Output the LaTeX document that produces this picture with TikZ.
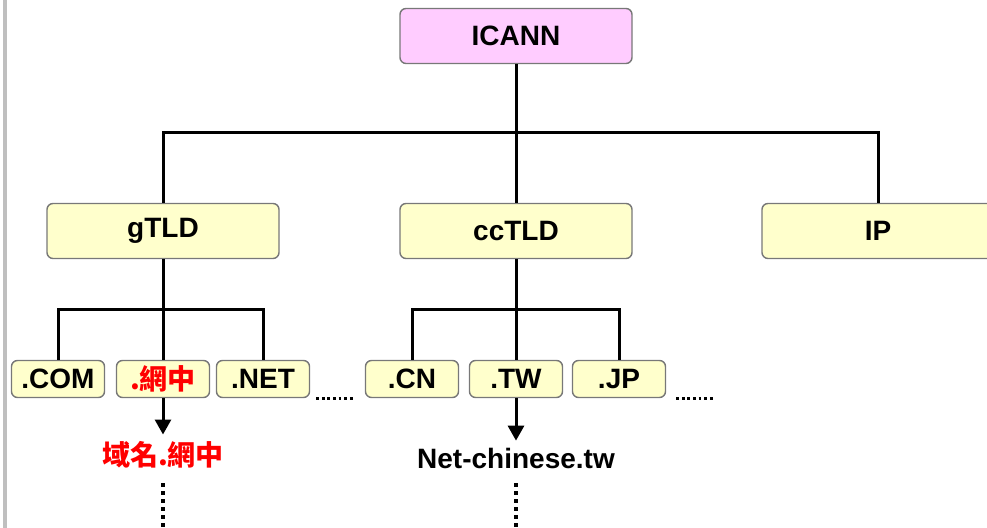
\documentclass[tikz,border=0pt]{standalone}
\usepackage{fontspec}
\setmainfont{Liberation Sans}
\newfontfamily\cjk{Noto Sans CJK TC}
\usetikzlibrary{arrows.meta}
\definecolor{boxyellow}{RGB}{255,255,204}
\definecolor{boxpink}{RGB}{255,204,255}
\definecolor{boxedge}{RGB}{120,120,120}

\begin{document}
\begin{tikzpicture}[x=0.5pt,y=-0.5pt,
        box/.style={draw=boxedge,line width=0.7pt,rounded corners=3pt,fill=boxyellow,
            inner sep=0pt,font=\fontsize{14}{16}\selectfont\bfseries},
        bigbox/.style={box,minimum width=116pt,minimum height=27.5pt},
        tldbox/.style={box,minimum width=46.5pt,minimum height=18.5pt},
        leaf/.style={font=\fontsize{14}{16}\selectfont\bfseries},
        branch/.style={line width=1.5pt},
        down/.style={line width=1.5pt,-{Triangle[length=7.5pt,width=8pt]}},
        vdots/.style={line width=1.6pt,dash pattern=on 1.6pt off 2.4pt},
        hdots/.style={line width=1.4pt,dash pattern=on 1.4pt off 1.4pt}]
    \useasboundingbox (0,0) rectangle (987,528);
    \draw[line width=1.6pt,black!25] (5,0) -- (5,528);

    \node[bigbox,fill=boxpink] (icann) at (516,36) {ICANN};
    \node[bigbox] (gtld) at (163,231) {gTLD};
    \node[bigbox] (cctld) at (516,231) {ccTLD};
    \node[bigbox] (ip) at (878,231) {IP};

    \node[tldbox] (com) at (58,379) {.COM};
    \node[tldbox,text=red] (wang) at (163,379) {\cjk .網中};
    \node[tldbox] (net) at (263,379) {.NET};
    \node[tldbox] (cn) at (412,379) {.CN};
    \node[tldbox] (tw) at (516,379) {.TW};
    \node[tldbox] (jp) at (619,379) {.JP};

    \node[leaf,text=red] (wangname) at (163,455) {\cjk 域名.網中};
    \node[leaf] (twname) at (516,458) {Net-chinese.tw};

    \coordinate (top) at (516,133);
    \coordinate (gbar) at (163,310);
    \coordinate (cbar) at (516,310);
    \coordinate (wangend) at (163,528);
    \coordinate (twend) at (516,528);

    \draw[branch] (icann) -- (cctld);
    \draw[branch] (gtld.north) |- (top) -| (ip.north);
    \draw[branch] (gtld) -- (wang);
    \draw[branch] (com.north) |- (gbar) -| (net.north);
    \draw[branch] (cctld) -- (tw);
    \draw[branch] (cn.north) |- (cbar) -| (jp.north);

    \draw[down] (wang) -- (wangname);
    \draw[down] (tw) -- (twname);
    \draw[vdots] ([yshift=-4pt]wangname.south) -- (wangend);
    \draw[vdots] ([yshift=-4pt]twname.south) -- (twend);
    \draw[hdots] ([xshift=3pt]net.south east) -- ++(19pt,0);
    \draw[hdots] ([xshift=5pt]jp.south east) -- ++(19pt,0);
\end{tikzpicture}
\end{document}
